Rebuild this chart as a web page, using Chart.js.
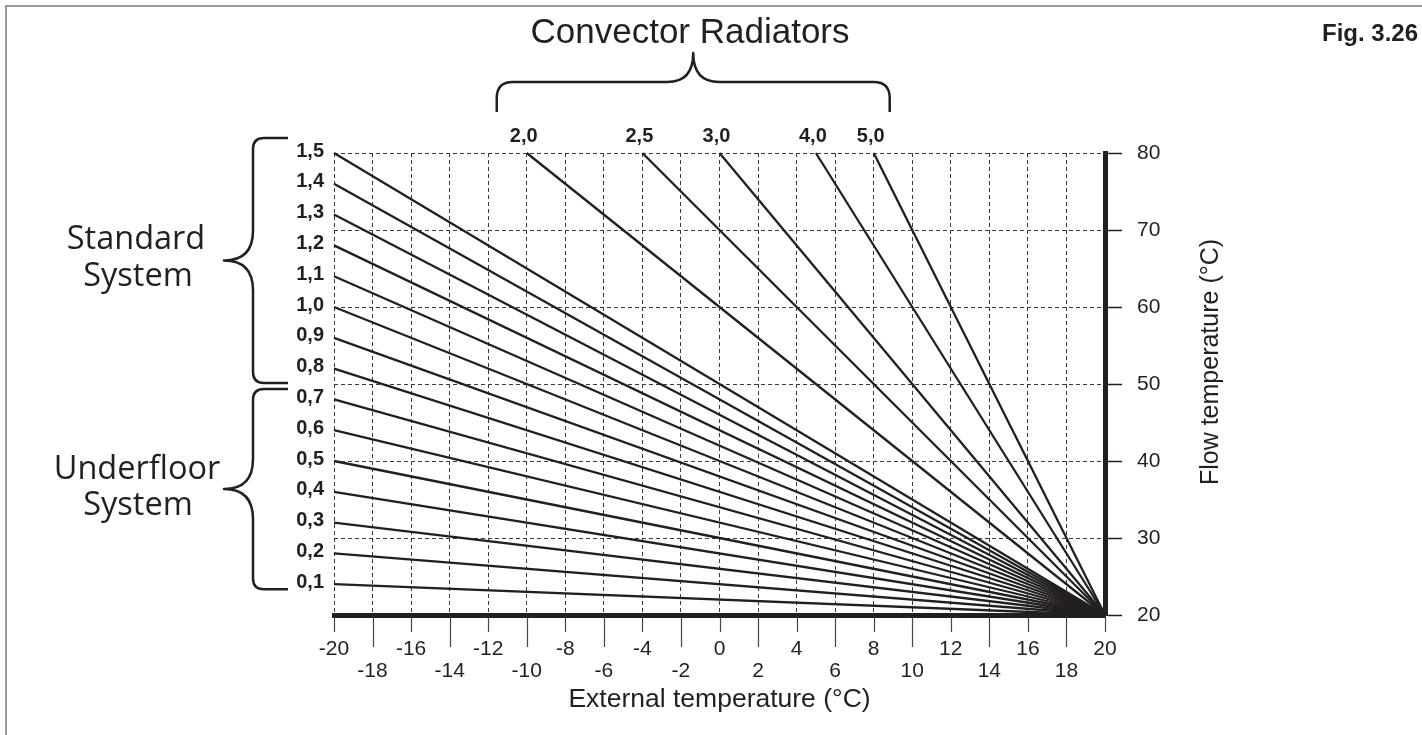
<!DOCTYPE html>
<html>
<head>
<meta charset="utf-8">
<script src="https://cdn.jsdelivr.net/npm/chart.js@4.4.0/dist/chart.umd.min.js"></script>
<style>
  html, body { margin: 0; padding: 0; background: #fff; }
  #wrap { position: relative; width: 1422px; height: 735px; }
</style>
</head>
<body>
<div id="wrap"><canvas id="curvas" width="1422" height="735"></canvas></div>
<script>
// heating curves: each line goes from its start point down to (20, 20)
const curveLabels = ['0,1', '0,2', '0,3', '0,4', '0,5', '0,6', '0,7', '0,8', '0,9', '1,0',
                     '1,1', '1,2', '1,3', '1,4', '1,5', '2,0', '2,5', '3,0', '4,0', '5,0'];
const startExt  = [-20, -20, -20, -20, -20, -20, -20, -20, -20, -20,
                   -20, -20, -20, -20, -20, -10, -4, 0, 5, 8];
const startFlow = [24, 28, 32, 36, 40, 44, 48, 52, 56, 60,
                   64, 68, 72, 76, 80, 80, 80, 80, 80, 80];
const endExt  = [20, 20, 20, 20, 20, 20, 20, 20, 20, 20,
                 20, 20, 20, 20, 20, 20, 20, 20, 20, 20];
const endFlow = [20, 20, 20, 20, 20, 20, 20, 20, 20, 20,
                 20, 20, 20, 20, 20, 20, 20, 20, 20, 20];

// tick labels
const extTicks  = [-20, -18, -16, -14, -12, -10, -8, -6, -4, -2, 0, 2, 4, 6, 8, 10, 12, 14, 16, 18, 20];
const flowTicks = [20, 30, 40, 50, 60, 70, 80];

const tinta = '#231f20';
const sans = "'Liberation Sans', Arial, Helvetica, sans-serif";
const humanist = "'Open Sans', 'Noto Sans', sans-serif";

// curly brace in local coords: ends at v=0, spine at v=a, tip at v=b
function llave(ctx, L, a, b, r, s) {
  const m = L / 2;
  ctx.beginPath();
  ctx.moveTo(0, 0);
  ctx.lineTo(0, a - r);
  ctx.quadraticCurveTo(0, a, r, a);
  ctx.lineTo(m - s, a);
  ctx.quadraticCurveTo(m, a, m, b);
  ctx.quadraticCurveTo(m, a, m + s, a);
  ctx.lineTo(L - r, a);
  ctx.quadraticCurveTo(L, a, L, a - r);
  ctx.lineTo(L, 0);
  ctx.stroke();
}

const extras = {
  id: 'extras',
  beforeDraw(chart) {
    const ctx = chart.ctx;
    ctx.save();
    ctx.fillStyle = '#fff';
    ctx.fillRect(0, 0, chart.width, chart.height);
    // frame of the figure
    ctx.strokeStyle = '#9a9a9a';
    ctx.lineWidth = 2;
    ctx.beginPath();
    ctx.moveTo(6, chart.height);
    ctx.lineTo(6, 6);
    ctx.lineTo(chart.width, 6);
    ctx.stroke();
    ctx.restore();
  },
  afterDraw(chart) {
    const ctx = chart.ctx;
    const xs = chart.scales.x, ys = chart.scales.y;
    const area = chart.chartArea;
    ctx.save();

    // tick marks below the x axis, alternating lengths
    ctx.strokeStyle = '#444';
    ctx.lineWidth = 1.2;
    extTicks.forEach((v, i) => {
      const px = Math.round(xs.getPixelForValue(v)) + 0.5;
      ctx.beginPath();
      ctx.moveTo(px, area.bottom + 2);
      ctx.lineTo(px, area.bottom + (i % 2 ? 32 : 17));
      ctx.stroke();
    });

    // curve labels
    ctx.fillStyle = tinta;
    ctx.font = 'bold 20px ' + sans;
    curveLabels.forEach((lab, i) => {
      const px = xs.getPixelForValue(startExt[i]);
      const py = ys.getPixelForValue(startFlow[i]);
      if (startExt[i] === xs.min) {
        ctx.textAlign = 'right';
        ctx.textBaseline = 'middle';
        ctx.fillText(lab, px - 10, py - 2);
      } else {
        ctx.textAlign = 'center';
        ctx.textBaseline = 'alphabetic';
        ctx.fillText(lab, px - 3, py - 11);
      }
    });

    // braces
    ctx.strokeStyle = tinta;
    ctx.lineWidth = 2.5;
    ctx.lineJoin = 'round';
    const brazoX = area.left - 46;
    const ramas = [
      [ys.getPixelForValue(80) - 15, ys.getPixelForValue(50) - 1],
      [ys.getPixelForValue(50) + 5, ys.getPixelForValue(24) + 5]
    ];
    ramas.forEach(([y1, y2]) => {
      ctx.save();
      ctx.transform(0, 1, -1, 0, brazoX, y1);
      llave(ctx, y2 - y1, 35, 64, 11, 30);
      ctx.restore();
    });
    const topX1 = xs.getPixelForValue(-10) - 30;
    const topX2 = xs.getPixelForValue(8) + 16;
    ctx.save();
    ctx.transform(1, 0, 0, -1, topX1, area.top - 41);
    llave(ctx, topX2 - topX1, 30, 59, 16, 26);
    ctx.restore();

    // group titles
    ctx.textAlign = 'center';
    ctx.textBaseline = 'alphabetic';
    ctx.font = '35px ' + sans;
    ctx.fillText('Convector Radiators', 690, 43);
    ctx.font = '32.5px ' + humanist;
    ctx.fillText('Standard', 136, 249);
    ctx.fillText('System', 138, 286);
    ctx.fillText('Underfloor', 137, 479);
    ctx.fillText('System', 138, 515);

    ctx.font = 'bold 24px ' + sans;
    ctx.textAlign = 'right';
    ctx.fillText('Fig. 3.26', 1418, 41);

    // right axis title (sits above the axis centre in the original)
    ctx.save();
    ctx.translate(1211, 362);
    ctx.rotate(-Math.PI / 2);
    ctx.textAlign = 'center';
    ctx.textBaseline = 'middle';
    ctx.font = '25px ' + sans;
    ctx.fillText('Flow temperature (°C)', 0, 0);
    ctx.restore();

    ctx.restore();
  }
};

const ctx = document.getElementById('curvas').getContext('2d');
new Chart(ctx, {
  type: 'scatter',
  data: {
    datasets: curveLabels.map((lab, i) => ({
      label: lab,
      data: [{x: startExt[i], y: startFlow[i]}, {x: endExt[i], y: endFlow[i]}],
      showLine: true,
      borderColor: tinta,
      borderWidth: 2.3,
      pointRadius: 0,
      clip: false
    }))
  },
  options: {
    responsive: false,
    animation: false,
    layout: { padding: { left: 334, top: 153, right: 0, bottom: 19 } },
    plugins: {
      legend: { display: false },
      tooltip: { enabled: false }
    },
    scales: {
      x: {
        type: 'linear',
        min: -20,
        max: 20,
        afterBuildTicks: s => { s.ticks = extTicks.map(v => ({ value: v })); },
        afterFit: s => { s.height = 101; },
        grid: { color: '#3a3a3a', lineWidth: 1, drawTicks: false },
        border: { display: true, color: tinta, width: 5, dash: [4, 3] },
        ticks: {
          padding: 23,
          color: tinta,
          maxRotation: 0,
          autoSkip: false,
          font: { family: sans, size: 21, lineHeight: 22 / 21 },
          // staggered labels: every other one on a second row
          callback: (v, i) => i % 2 === 0 ? [String(v), ''] : ['', String(v)]
        },
        title: {
          display: true,
          text: 'External temperature (°C)',
          color: tinta,
          font: { family: sans, size: 26.5, lineHeight: 1.2 },
          padding: { top: 0, bottom: 0 }
        }
      },
      y: {
        type: 'linear',
        position: 'right',
        min: 20,
        max: 80,
        afterBuildTicks: s => { s.ticks = flowTicks.map(v => ({ value: v })); },
        afterFit: s => { s.width = 317; },
        grid: { color: '#3a3a3a', lineWidth: 1, drawTicks: true, tickLength: 17, tickColor: tinta, tickWidth: 1.5 },
        border: { display: true, color: tinta, width: 5, dash: [4, 3] },
        ticks: {
          padding: 15,
          color: tinta,
          font: { family: sans, size: 21 }
        }
      }
    }
  },
  plugins: [extras]
});
</script>
</body>
</html>
